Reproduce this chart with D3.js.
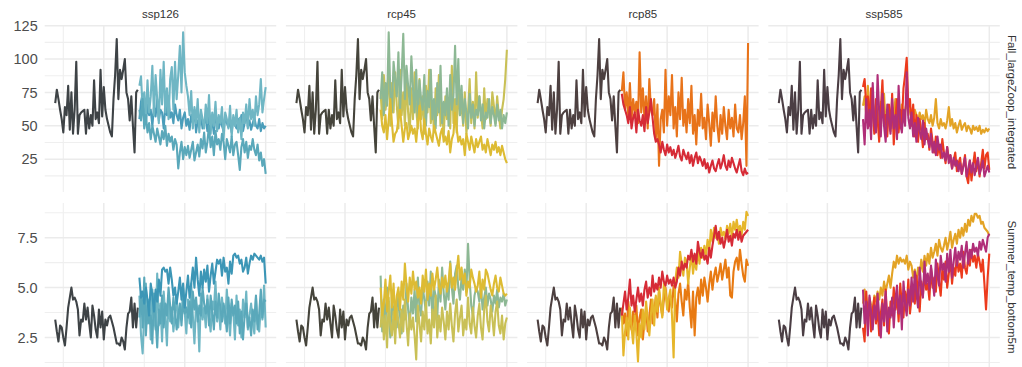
<!DOCTYPE html>
<html>
<head>
<meta charset="utf-8">
<script src="https://cdn.jsdelivr.net/npm/d3@7"></script>
<style>
  html, body { margin: 0; padding: 0; background: #fff; }
  svg { display: block; font-family: "Liberation Sans", Arial, sans-serif; }
</style>
</head>
<body>
<div id="chart"></div>
<script>
// facets
var scenarios = ["ssp126", "rcp45", "rcp85", "ssp585"];
var variables = ["Fall_largeZoop_integrated", "Summer_temp_bottom5m"];

// years
var histStart = 1970;   // historical run 1970-2021
var projStart = 2022;   // projections 2022-2100

// y tick labels per row
var zoopTicks = [25, 50, 75, 100, 125];
var tempTicks = [2.5, 5.0, 7.5];

// historical (same in every column)
var histZoop = [67, 77, 70, 62, 55, 45, 64, 58, 80, 47, 75, 44, 62, 98, 44, 58, 60, 61, 62, 44,
  62, 48, 58, 50, 84, 55, 60, 52, 92, 57, 79, 62, 55, 50, 45, 42, 70, 88, 115, 70,
  92, 85, 92, 100, 75, 70, 54, 72, 50, 30, 75, 77];
var histTemp = [3.4, 2.8, 2.3, 3.1, 3.0, 2.5, 2.1, 3.0, 4.0, 4.5, 5.0, 4.4, 4.5, 4.3, 3.9, 2.6, 3.4, 3.3, 4.2, 3.4,
  4.0, 3.2, 2.5, 4.1, 3.6, 2.9, 2.5, 3.9, 3.0, 3.8, 2.4, 3.4, 3.1, 3.5, 3.6, 3.3, 3.0, 2.6, 2.2, 2.2,
  2.1, 2.5, 2.3, 1.9, 3.0, 3.7, 3.8, 4.5, 3.0, 4.2, 3.0, 4.0];

// ---- Fall_largeZoop_integrated projections ----
var zoopSsp126A = [80, 87, 62, 75, 55, 84, 60, 72, 95, 58, 88, 70, 52, 92, 66, 98, 60, 78, 55, 85,
  94, 62, 98, 70, 88, 110, 75, 120, 90, 80, 72, 58, 76, 48, 64, 52, 70, 45, 62, 55,
  48, 66, 52, 73, 44, 60, 50, 68, 46, 58, 52, 64, 40, 60, 55, 48, 65, 42, 58, 50,
  62, 45, 56, 40, 60, 52, 66, 48, 70, 55, 62, 50, 72, 58, 66, 85, 60, 70, 79];
var zoopSsp126B = [55, 68, 74, 60, 52, 66, 58, 62, 50, 64, 57, 70, 54, 62, 60, 48, 65, 58, 72, 56,
  60, 52, 66, 58, 54, 62, 48, 56, 60, 50, 55, 47, 58, 52, 62, 45, 54, 50, 58, 48,
  52, 56, 46, 60, 50, 54, 44, 58, 52, 48, 55, 50, 46, 57, 52, 49, 54, 45, 56, 51,
  48, 55, 50, 58, 46, 52, 60, 49, 54, 47, 52, 56, 50, 48, 55, 46, 52, 48, 50];
var zoopSsp126C = [62, 54, 70, 48, 58, 45, 52, 40, 50, 44, 38, 48, 42, 36, 46, 40, 50, 35, 44, 38,
  42, 32, 40, 36, 18, 30, 38, 25, 34, 28, 35, 26, 32, 38, 24, 30, 36, 27, 40, 33,
  45, 30, 38, 50, 34, 42, 28, 46, 36, 40, 32, 44, 38, 25, 40, 35, 30, 42, 28, 36,
  38, 28, 17, 34, 40, 30, 38, 26, 35, 32, 40, 32, 28, 36, 24, 30, 20, 25, 14];

var zoopRcp45A = [70, 90, 58, 82, 65, 120, 75, 60, 98, 85, 72, 105, 62, 88, 119, 70, 95, 80, 66, 102,
  78, 60, 92, 56, 84, 70, 62, 88, 50, 76, 64, 92, 55, 70, 48, 82, 60, 95, 52, 68,
  58, 78, 50, 88, 62, 72, 110, 66, 100, 58, 80, 52, 70, 60, 48, 74, 56, 66, 50, 62,
  58, 72, 54, 66, 48, 60, 56, 70, 52, 64, 58, 50, 66, 54, 62, 48, 58, 52, 60];
var zoopRcp45B = [62, 50, 45, 58, 40, 55, 70, 52, 38, 44, 46, 55, 62, 50, 38, 48, 52, 40, 45, 50,
  44, 48, 38, 52, 65, 46, 40, 55, 44, 36, 48, 42, 38, 50, 45, 40, 35, 44, 48, 38,
  42, 36, 46, 30, 40, 44, 60, 48, 38, 42, 36, 40, 28, 44, 38, 32, 42, 36, 30, 40,
  34, 38, 42, 32, 36, 30, 40, 34, 28, 36, 32, 38, 30, 34, 28, 35, 30, 25, 22];
var zoopRcp45C = [75, 55, 88, 62, 70, 95, 50, 82, 60, 90, 65, 48, 92, 58, 75, 50, 85, 60, 45, 78,
  55, 90, 62, 48, 85, 55, 72, 44, 80, 60, 92, 52, 66, 45, 78, 58, 88, 50, 62, 42,
  72, 55, 60, 48, 95, 52, 70, 45, 82, 58, 66, 50, 75, 44, 60, 85, 52, 68, 48, 90,
  56, 72, 60, 48, 78, 55, 70, 62, 50, 75, 65, 52, 72, 58, 48, 62, 70, 85, 107];

var zoopRcp85A = [76, 90, 62, 75, 58, 82, 55, 70, 60, 68, 52, 105, 60, 78, 55, 72, 48, 85, 62, 58,
  70, 40, 66, 20, 55, 62, 45, 92, 50, 72, 58, 88, 48, 64, 42, 75, 55, 86, 50, 62,
  45, 70, 52, 80, 44, 58, 36, 62, 50, 74, 48, 56, 40, 66, 52, 35, 60, 46, 72, 50,
  38, 58, 44, 64, 50, 40, 62, 48, 56, 42, 66, 48, 45, 58, 40, 52, 72, 20, 112];
var zoopRcp85B = [74, 66, 62, 58, 52, 64, 48, 56, 60, 45, 62, 54, 50, 58, 46, 64, 52, 60, 70, 56,
  44, 38, 40, 36, 30, 38, 32, 28, 36, 30, 34, 28, 32, 26, 30, 35, 27, 24, 32, 28,
  25, 30, 22, 28, 20, 26, 30, 22, 27, 24, 20, 25, 18, 22, 15, 20, 24, 18, 16, 21,
  25, 18, 22, 28, 20, 17, 24, 19, 26, 22, 18, 15, 20, 25, 16, 13, 18, 14, 15];

var zoopSsp585A = [65, 72, 58, 80, 62, 55, 70, 48, 66, 60, 52, 68, 58, 74, 50, 62, 55, 46, 64, 58,
  70, 52, 60, 48, 66, 56, 62, 68, 58, 64, 60, 56, 62, 58, 52, 60, 55, 58, 50, 62,
  55, 52, 58, 50, 56, 70, 52, 48, 55, 50, 52, 48, 54, 64, 50, 55, 48, 52, 45, 50,
  54, 47, 50, 52, 46, 50, 48, 44, 50, 47, 49, 46, 50, 44, 47, 45, 48, 46, 48];
var zoopSsp585B = [79, 85, 65, 72, 50, 78, 60, 44, 70, 55, 38, 62, 84, 50, 58, 42, 66, 48, 74, 36,
  56, 70, 45, 62, 52, 78, 88, 101, 64, 70, 50, 66, 42, 58, 38, 55, 46, 34, 52, 40,
  44, 32, 48, 38, 30, 42, 28, 36, 26, 40, 30, 22, 34, 25, 28, 18, 24, 30, 16, 22,
  26, 14, 20, 28, 12, 7, 24, 9, 20, 30, 16, 25, 12, 22, 32, 18, 28, 30, 17];
var zoopSsp585C = [55, 36, 70, 48, 62, 40, 82, 52, 45, 88, 60, 42, 74, 50, 38, 66, 55, 44, 70, 48,
  58, 40, 80, 52, 45, 62, 50, 90, 56, 48, 60, 42, 52, 38, 56, 46, 40, 54, 36, 48,
  40, 34, 44, 30, 38, 28, 42, 32, 36, 26, 30, 24, 34, 22, 28, 18, 26, 20, 24, 16,
  22, 14, 20, 26, 12, 18, 24, 15, 22, 13, 20, 26, 14, 18, 24, 12, 16, 20, 15];

// ---- Summer_temp_bottom5m projections ----
var tempSsp126A = [4.6, 2.6, 1.7, 3.8, 5.2, 3.2, 4.4, 2.4, 4.9, 3.5, 2.9, 5.7, 3.1, 4.2, 2.3, 4.8, 3.6, 2.1, 4.5, 3.3,
  4.0, 2.8, 3.7, 4.6, 3.0, 4.1, 3.4, 5.0, 3.8, 2.7, 4.4, 3.2, 5.2, 3.6, 2.2, 4.2, 3.9, 1.8, 4.7, 3.4,
  4.0, 3.0, 4.6, 3.5, 2.8, 4.3, 3.9, 5.3, 3.3, 4.1, 2.9, 4.5, 3.7, 3.2, 4.9, 3.6, 2.6, 4.2, 3.8, 2.4,
  4.6, 3.1, 3.9, 2.5, 4.4, 3.5, 4.8, 2.9, 3.6, 4.2, 3.3, 2.7, 4.5, 3.2, 2.8, 4.1, 3.4, 5.1, 3.0];
var tempSsp126B = [5.5, 4.5, 4.8, 4.2, 5.0, 4.4, 3.6, 5.2, 4.6, 3.8, 4.9, 4.3, 5.4, 4.6, 5.9, 6.0, 5.8, 5.9, 5.2, 6.0,
  5.4, 4.6, 5.0, 4.2, 4.8, 5.5, 4.4, 5.2, 4.0, 4.8, 5.6, 4.5, 5.2, 6.0, 5.0, 6.5, 5.4, 4.6, 5.8, 5.0,
  5.9, 5.3, 6.1, 4.8, 5.6, 6.2, 5.2, 5.8, 6.4, 6.2, 6.4, 5.6, 6.5, 5.8, 6.0, 5.2, 6.3, 5.7, 6.6, 6.7,
  6.5, 6.6, 6.2, 6.4, 5.8, 6.0, 6.5, 5.7, 6.2, 6.6, 6.4, 6.7, 6.6, 6.5, 6.4, 6.6, 6.3, 6.5, 5.2];
var tempSsp126C = [3.5, 4.8, 3.0, 5.5, 2.6, 4.1, 3.2, 3.6, 2.2, 4.7, 3.4, 2.0, 3.9, 3.2, 4.6, 3.0, 4.2, 3.6, 5.0, 4.1,
  3.2, 4.5, 3.8, 2.9, 3.6, 4.2, 3.1, 4.4, 3.7, 4.0, 3.5, 4.3, 3.0, 4.8, 3.9, 4.5, 3.3, 4.1, 3.6, 5.0,
  4.2, 3.7, 4.4, 3.1, 4.6, 3.8, 2.9, 4.3, 3.5, 4.7, 4.0, 3.3, 4.2, 3.7, 2.8, 4.5, 3.2, 4.4, 3.6, 4.1,
  3.2, 4.3, 2.7, 3.8, 2.4, 3.6, 4.2, 3.0, 3.5, 2.6, 3.9, 3.3, 4.6, 2.9, 3.7, 4.9, 3.5, 4.4, 4.3];

var tempRcp45A = [5.6, 2.8, 4.4, 3.2, 5.0, 3.8, 2.5, 4.6, 3.5, 4.2, 3.0, 4.8, 3.6, 2.7, 4.1, 3.4, 5.2, 3.9, 3.1, 4.5,
  3.7, 4.9, 3.3, 5.5, 4.0, 3.6, 5.1, 4.4, 3.8, 5.3, 4.1, 5.8, 3.2, 5.0, 4.6, 3.5, 5.4, 4.3, 6.0, 4.7,
  3.9, 5.2, 4.4, 6.3, 5.0, 4.2, 5.7, 6.1, 5.0, 4.4, 5.5, 4.9, 5.9, 4.8, 7.2, 5.4, 4.1, 3.6, 4.6, 5.0,
  4.8, 4.3, 5.1, 3.9, 4.5, 5.0, 4.1, 4.7, 4.4, 3.8, 4.6, 4.2, 4.9, 4.0, 4.5, 4.3, 4.7, 4.1, 4.4];
var tempRcp45B = [5.0, 3.6, 4.2, 5.4, 3.8, 4.8, 5.6, 4.0, 5.2, 3.4, 4.6, 5.0, 3.9, 5.3, 4.4, 6.2, 5.1, 4.3, 5.5, 4.7,
  5.8, 4.9, 5.3, 4.5, 5.0, 4.2, 5.6, 4.8, 5.9, 4.4, 5.2, 4.6, 5.7, 4.9, 5.4, 6.0, 5.1, 4.7, 5.5, 5.0,
  5.6, 4.8, 5.3, 6.2, 5.0, 5.5, 4.9, 5.8, 6.6, 5.4, 6.0, 5.2, 5.7, 4.6, 5.3, 5.0, 5.9, 5.5, 5.2, 4.8,
  5.1, 5.8, 4.5, 5.4, 4.9, 5.9, 5.7, 5.3, 4.9, 4.6, 5.2, 5.6, 5.0, 4.8, 5.5, 5.1, 4.7, 4.6, 4.7];
var tempRcp45C = [3.0, 4.2, 2.4, 3.6, 2.0, 4.5, 3.1, 2.6, 3.8, 2.2, 4.0, 3.3, 2.5, 3.9, 2.8, 4.4, 3.2, 2.1, 3.7, 2.9,
  3.5, 2.6, 1.4, 4.1, 3.2, 2.3, 3.8, 2.9, 4.3, 2.7, 3.4, 2.2, 3.9, 3.0, 4.6, 2.5, 3.6, 2.8, 4.0, 3.3,
  2.4, 3.8, 2.9, 4.2, 3.1, 2.3, 3.7, 4.4, 2.8, 3.5, 4.1, 2.6, 3.4, 2.9, 4.5, 3.2, 2.7, 4.0, 3.1, 2.5,
  3.6, 4.2, 3.0, 2.4, 3.9, 4.6, 3.3, 2.8, 4.1, 3.5, 2.6, 3.8, 4.3, 3.1, 2.7, 3.6, 2.4, 3.2, 3.5];

var tempRcp85A = [4.0, 3.2, 3.7, 2.6, 4.3, 3.4, 2.9, 3.8, 3.1, 4.1, 2.6, 3.5, 3.9, 2.4, 3.3, 4.0, 2.8, 3.6, 4.4, 3.2,
  3.9, 4.5, 3.5, 4.8, 4.1, 3.6, 4.4, 5.0, 4.2, 3.8, 4.6, 4.0, 5.1, 4.4, 3.3, 4.7, 5.2, 4.3, 3.6, 4.9,
  4.4, 5.3, 4.0, 3.0, 4.8, 2.6, 4.5, 5.0, 4.2, 5.4, 4.6, 5.5, 5.0, 4.3, 5.2, 5.8, 4.9, 5.6, 6.0, 5.3,
  5.7, 6.2, 5.4, 5.9, 6.4, 5.5, 6.0, 4.6, 4.5, 5.8, 6.3, 6.5, 5.9, 6.9, 6.2, 5.6, 5.3, 6.4, 6.1];
var tempRcp85B = [3.6, 4.2, 4.8, 3.9, 4.5, 5.4, 4.1, 4.6, 3.8, 4.4, 5.0, 4.3, 4.7, 4.1, 4.9, 5.3, 4.5, 5.0, 4.6, 5.6,
  4.8, 5.2, 4.9, 5.5, 5.0, 5.8, 5.3, 5.1, 5.6, 5.2, 5.4, 5.1, 5.5, 5.0, 5.3, 6.0, 5.6, 6.3, 5.9, 6.2,
  6.0, 6.6, 6.4, 6.9, 6.3, 6.7, 6.2, 7.3, 6.8, 6.5, 6.9, 6.4, 6.6, 6.2, 7.0, 6.5, 7.1, 7.6, 8.1, 7.4,
  7.8, 7.2, 7.5, 7.0, 7.4, 7.9, 7.3, 7.6, 7.1, 7.7, 7.5, 7.9, 7.4, 7.8, 7.3, 7.6, 7.7, 7.8, 7.9];
var tempRcp85C = [3.8, 1.6, 2.8, 3.5, 2.4, 4.0, 3.0, 2.2, 3.6, 2.7, 1.3, 3.2, 2.5, 3.9, 2.9, 4.3, 3.4, 2.6, 3.7, 4.4,
  3.1, 4.6, 3.8, 5.0, 4.2, 3.5, 5.2, 4.8, 3.9, 4.5, 4.9, 3.6, 1.5, 5.3, 6.0, 5.5, 6.8, 6.2, 5.6, 6.5,
  6.3, 5.2, 6.0, 6.7, 5.7, 6.4, 5.9, 6.9, 6.2, 7.0, 6.5, 7.1, 6.6, 7.4, 6.8, 7.9, 7.3, 8.0, 7.5, 7.7,
  7.2, 8.0, 7.6, 7.8, 7.4, 8.1, 7.7, 8.2, 7.5, 8.3, 7.9, 8.4, 7.8, 8.1, 7.6, 8.3, 7.9, 8.8, 8.6];

var tempSsp585A = [4.2, 4.9, 4.0, 3.6, 4.5, 4.1, 3.8, 4.6, 4.3, 4.8, 4.4, 5.0, 4.6, 5.3, 4.8, 5.2, 5.6, 5.0, 5.7, 6.3,
  6.0, 6.6, 6.2, 6.5, 6.3, 6.4, 6.2, 6.6, 5.9, 6.3, 6.1, 5.5, 5.9, 5.3, 6.0, 5.6, 6.4, 5.8, 6.6, 6.1,
  6.7, 6.2, 7.0, 6.5, 6.8, 7.2, 6.6, 7.4, 7.0, 6.8, 7.1, 7.5, 6.9, 7.3, 7.8, 7.0, 7.4, 7.7, 7.2, 7.9,
  7.5, 8.0, 7.6, 8.2, 7.8, 8.4, 8.1, 8.6, 8.3, 8.7, 8.7, 8.5, 8.6, 8.2, 8.3, 8.0, 7.9, 7.8, 7.6];
var tempSsp585B = [3.0, 2.3, 4.8, 3.5, 4.2, 2.8, 3.9, 4.5, 3.2, 4.0, 2.6, 3.7, 4.4, 3.1, 4.9, 3.4, 2.7, 4.3, 3.6, 5.0,
  3.9, 4.6, 3.3, 5.2, 4.1, 3.5, 4.8, 4.0, 5.4, 3.7, 4.5, 5.1, 4.2, 5.6, 4.7, 3.8, 5.3, 4.6, 5.8, 4.9,
  5.2, 4.4, 6.0, 5.0, 5.5, 4.8, 6.2, 5.3, 4.6, 5.9, 5.4, 6.3, 5.0, 5.7, 6.4, 5.2, 6.0, 5.6, 6.6, 5.8,
  6.2, 5.5, 6.8, 6.0, 5.7, 6.5, 6.1, 6.9, 6.3, 6.6, 6.0, 6.7, 6.3, 5.8, 6.4, 5.2, 3.9, 5.5, 6.7];
var tempSsp585C = [4.9, 3.2, 4.3, 2.6, 4.6, 3.8, 2.9, 4.1, 3.4, 4.7, 3.6, 2.5, 4.2, 3.3, 4.8, 2.8, 4.0, 3.5, 4.5, 3.0,
  4.4, 5.1, 3.7, 4.6, 2.9, 5.3, 4.2, 3.6, 4.9, 4.1, 5.5, 4.3, 5.8, 4.7, 4.0, 6.0, 5.0, 4.5, 6.3, 5.2,
  5.7, 4.9, 6.1, 5.4, 4.6, 6.4, 5.6, 5.1, 6.6, 5.9, 6.2, 5.3, 6.7, 5.8, 6.9, 5.5, 6.3, 7.0, 6.1, 6.8,
  6.4, 7.1, 6.0, 6.7, 7.3, 6.2, 6.9, 6.5, 7.2, 6.8, 7.0, 6.6, 7.3, 6.9, 7.4, 7.1, 6.8, 7.5, 7.7];

// projections per facet: [row][col] -> list of runs
var projections = [
  [[zoopSsp126B, zoopSsp126A, zoopSsp126C], [zoopRcp45C, zoopRcp45A, zoopRcp45B], [zoopRcp85A, zoopRcp85B], [zoopSsp585A, zoopSsp585B, zoopSsp585C]],
  [[tempSsp126A, tempSsp126C, tempSsp126B], [tempRcp45A, tempRcp45C, tempRcp45B], [tempRcp85A, tempRcp85C, tempRcp85B], [tempSsp585A, tempSsp585B, tempSsp585C]]
];
var historical = [histZoop, histTemp];

// colours
var histColors = ["#3E4346", "#45443B", "#4D4040", "#4B3E44"];
var projColors = [
  [["#4A9DBA", "#6FB6C4", "#5AA8BA"], ["#C9C056", "#8DB894", "#DDBB33"], ["#E8731A", "#D62B36"], ["#E3A325", "#EC3A1C", "#B02E78"]],
  [["#6FB6C4", "#5AA8BA", "#3C96B6"], ["#8DB894", "#C9C056", "#DDBB33"], ["#E87A12", "#E6B62A", "#D62B36"], ["#E3A325", "#EC3A1C", "#B02E78"]]
];

// layout
var width = 1022, height = 367;
var panelX0 = 44.7, panelStep = 241.2, panelW = 231.5;
var rows = [{ top: 25, h: 167, domain: [0.4, 125.5], ticks: zoopTicks, minor: [12.5, 37.5, 62.5, 87.5, 112.5], fmt: d3.format("d"), label: 102 },
            { top: 203, h: 177, domain: [0.37, 9.24], ticks: tempTicks, minor: [1.25, 3.75, 6.25, 8.75], fmt: d3.format(".1f"), label: 287 }];
var xMajor = [2000, 2050, 2100], xMinor = [1975, 2025, 2075];

var svg = d3.select("#chart").append("svg")
  .attr("width", width).attr("height", height);

var x = d3.scaleLinear().domain([1963.5, 2106.5]).range([0, panelW]);

rows.forEach(function (row, r) {
  var y = d3.scaleLinear().domain(row.domain).range([row.h, 0]);

  // y labels (first column only)
  var axis = svg.append("g")
    .attr("transform", "translate(" + (panelX0 - 7) + "," + row.top + ")")
    .call(d3.axisLeft(y).tickValues(row.ticks).tickFormat(row.fmt).tickSize(0).tickPadding(0));
  axis.select(".domain").remove();
  axis.selectAll("text")
    .attr("fill", "#4D4D4D")
    .style("font-size", "14.5px")
    .style("font-family", "'Liberation Sans', Arial, sans-serif");

  scenarios.forEach(function (sc, c) {
    var g = svg.append("g")
      .attr("transform", "translate(" + (panelX0 + c * panelStep) + "," + row.top + ")");

    // grid
    g.selectAll(".hmin").data(row.minor).enter().append("line")
      .attr("x1", 0).attr("x2", panelW)
      .attr("y1", function (d) { return y(d); }).attr("y2", function (d) { return y(d); })
      .attr("stroke", "#EFEFEF").attr("stroke-width", 1.1);
    g.selectAll(".vmin").data(xMinor).enter().append("line")
      .attr("y1", 0).attr("y2", row.h)
      .attr("x1", function (d) { return x(d); }).attr("x2", function (d) { return x(d); })
      .attr("stroke", "#EFEFEF").attr("stroke-width", 1.1);
    g.selectAll(".hmaj").data(row.ticks).enter().append("line")
      .attr("x1", 0).attr("x2", panelW)
      .attr("y1", function (d) { return y(d); }).attr("y2", function (d) { return y(d); })
      .attr("stroke", "#EBEBEB").attr("stroke-width", 1.5);
    g.selectAll(".vmaj").data(xMajor).enter().append("line")
      .attr("y1", 0).attr("y2", row.h)
      .attr("x1", function (d) { return x(d); }).attr("x2", function (d) { return x(d); })
      .attr("stroke", "#EBEBEB").attr("stroke-width", 1.5);

    var line = d3.line()
      .x(function (d) { return x(d[0]); })
      .y(function (d) { return y(d[1]); });

    // historical
    var hist = historical[r].map(function (v, i) { return [histStart + i, v]; });
    g.append("path").datum(hist)
      .attr("d", line)
      .attr("fill", "none")
      .attr("stroke", histColors[c])
      .attr("stroke-width", 2.1)
      .attr("stroke-linejoin", "round");

    // projections
    projections[r][c].forEach(function (run, k) {
      var pts = run.map(function (v, i) { return [projStart + i, v]; });
      g.append("path").datum(pts)
        .attr("d", line)
        .attr("fill", "none")
        .attr("stroke", projColors[r][c][k])
        .attr("stroke-width", 2.1)
        .attr("stroke-linejoin", "round");
    });

    // column strip
    if (r === 0) {
      svg.append("text")
        .attr("x", panelX0 + c * panelStep + panelW / 2)
        .attr("y", 17.5)
        .attr("text-anchor", "middle")
        .attr("fill", "#333")
        .style("font-size", "11.5px")
        .text(sc);
    }
  });

  // row strip
  svg.append("text")
    .attr("transform", "translate(1008," + row.label + ") rotate(90)")
    .attr("text-anchor", "middle")
    .attr("fill", "#333")
    .style("font-size", "11.5px")
    .text(variables[r]);
});
</script>
</body>
</html>
